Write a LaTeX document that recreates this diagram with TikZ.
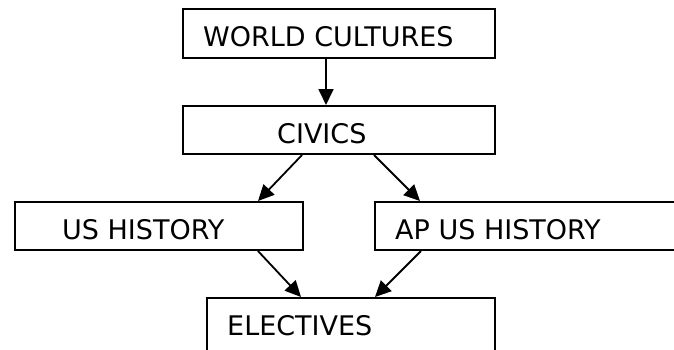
\documentclass[tikz,border=0pt]{standalone}
\usepackage{fontspec}
\setmainfont{DejaVu Sans}
\usetikzlibrary{arrows.meta}
\begin{document}
\begin{tikzpicture}[x=1pt,y=-1pt,
  box/.style={draw=black,line width=2pt,rectangle,inner sep=0pt,anchor=north west},
  lbl/.style={anchor=base west,inner sep=0pt,font=\fontsize{27}{32}\selectfont},
  conn/.style={line width=1.8pt,-{Triangle[length=16pt,width=15pt]}}]
\clip (0,0) rectangle (674,349);
\fill[white] (0,0) rectangle (674,349);
\node[box,minimum width=312pt,minimum height=49pt] (wc) at (182,8) {};
\node[box,minimum width=312pt,minimum height=48pt] (civ) at (182,105) {};
\node[box,minimum width=288pt,minimum height=48pt] (us) at (14,201) {};
\node[box,minimum width=330pt,minimum height=48pt] (ap) at (374,201) {};
\node[box,minimum width=288pt,minimum height=70pt] (el) at (206,297) {};
\node[lbl] (wct) at (203,46.7) {WORLD CULTURES};
\node[lbl] (civt) at (277,143) {CIVICS};
\node[lbl] (ust) at (62,239.3) {US HISTORY};
\node[lbl] (apt) at (395,239.3) {AP US HISTORY};
\node[lbl] (elt) at (227,335) {ELECTIVES};
\draw[conn] ([xshift=144pt]wc.south west) -- ([xshift=144pt]civ.north west);
\draw[conn] ([xshift=120pt]civ.south west) -- ([xshift=-46pt]us.north east);
\draw[conn] ([xshift=192pt]civ.south west) -- ([xshift=46pt]ap.north west);
\draw[conn] ([xshift=-46pt]us.south east) -- ([xshift=95pt]el.north west);
\draw[conn] ([xshift=47pt]ap.south west) -- ([xshift=169pt]el.north west);
\end{tikzpicture}
\end{document}
